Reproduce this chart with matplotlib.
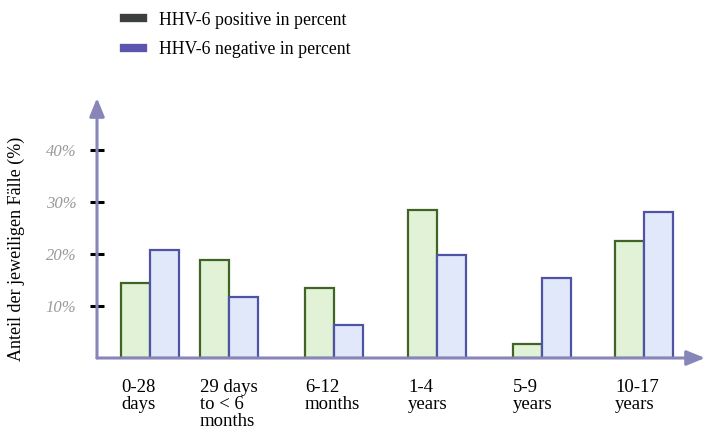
import numpy as np
import matplotlib.pyplot as plt
from matplotlib.lines import Line2D

plt.rcParams['font.family'] = ['Liberation Serif', 'DejaVu Serif']

# Data
age_groups = ['0-28\ndays', '29 days\nto < 6\nmonths', '6-12\nmonths',
              '1-4\nyears', '5-9\nyears', '10-17\nyears']
hhv6_positive = [14.4, 18.8, 13.5, 28.5, 2.7, 22.5]
hhv6_negative = [20.8, 11.7, 6.3, 19.8, 15.4, 28.1]
y_ticks = [10, 20, 30, 40]
y_tick_labels = ['10%', '20%', '30%', '40%']

# group centres (uneven spacing as in the original layout)
pos = np.array([0, 0.79, 1.84, 2.87, 3.92, 4.94])
bw = 0.29

fig = plt.figure(figsize=(7.1, 4.33), dpi=100)
ax = fig.add_axes([97 / 710, 75 / 433, 608 / 710, 260 / 433])

ax.bar(pos - bw / 2, hhv6_positive, bw, color='#e2f2d6', edgecolor='#3f6426', linewidth=1.6)
ax.bar(pos + bw / 2, hhv6_negative, bw, color='#e0e8fa', edgecolor='#4f53a6', linewidth=1.6)

ax.set_xlim(-0.53, 5.55)
ax.set_ylim(0, 50)

for s in ax.spines.values():
    s.set_visible(False)

axis_col = '#8886b8'
ax.annotate('', xy=(0, 1.0), xytext=(0, 0), xycoords='axes fraction',
            arrowprops=dict(arrowstyle='-|>,head_width=0.45,head_length=1.1',
                            color=axis_col, lw=2.2, shrinkA=0, shrinkB=0))
ax.annotate('', xy=(1.0, 0), xytext=(0, 0), xycoords='axes fraction',
            arrowprops=dict(arrowstyle='-|>,head_width=0.45,head_length=1.1',
                            color=axis_col, lw=2.2, shrinkA=0, shrinkB=0))

ax.set_yticks(y_ticks)
ax.set_yticklabels(y_tick_labels, color='#9a9a9a', fontsize=12, style='italic')
ax.tick_params(axis='y', direction='inout', length=10, width=2.2, color='black', pad=10)

ax.set_xticks(pos - bw)
ax.set_xticklabels(age_groups, ha='left', fontsize=13.5, linespacing=1.0)
ax.tick_params(axis='x', length=0, pad=15)

ax.set_ylabel('Anteil der jeweiligen Fälle (%)', fontsize=13)
ax.yaxis.set_label_coords(-0.118, 0.42)

handles = [Line2D([], [], color='#3c403c', lw=6),
           Line2D([], [], color='#5b56ac', lw=6)]
fig.legend(handles, ['HHV-6 positive in percent', 'HHV-6 negative in percent'],
           loc='upper left', bbox_to_anchor=(108 / 710, 1.01), frameon=False,
           fontsize=12.8, handlelength=1.05, labelspacing=0.68, handletextpad=0.9)

fig.savefig('out.png', dpi=100)
